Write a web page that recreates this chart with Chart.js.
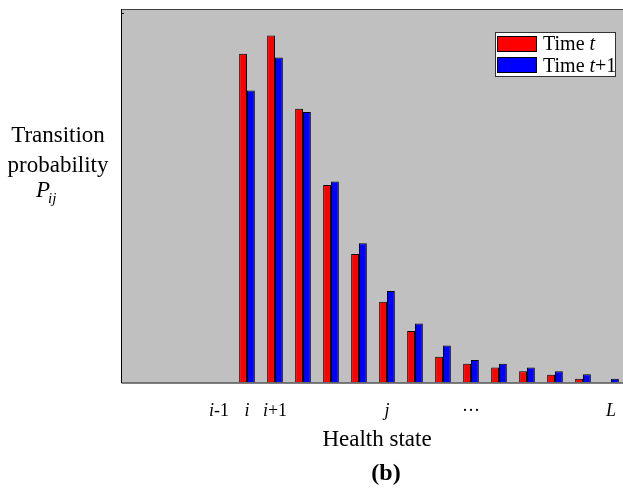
<!DOCTYPE html>
<html>
<head>
<meta charset="utf-8">
<script src="https://cdn.jsdelivr.net/npm/chart.js@4.4.0/dist/chart.umd.min.js"></script>
<style>
  html, body { margin: 0; padding: 0; background: #fff; overflow: hidden; }
  #wrap { width: 626px; height: 490px; }
</style>
</head>
<body>
<div id="wrap"><canvas id="chart" width="626" height="490"></canvas></div>
<script>
// health states on the x axis, *...* is drawn in italic
const states = ['', '', '', '*i*-1', '*i*', '*i*+1', '', '', '', '*j*', '', '', '···', '', '', '', '', '*L*']
// transition probability (1 = top of the plot)
const timeT = [null, null, null, null, 0.880, 0.929, 0.733, 0.529, 0.344, 0.216, 0.138, 0.069, 0.050, 0.040, 0.030, 0.021, 0.010, 0]
const timeT1 = [null, null, null, null, 0.782, 0.870, 0.724, 0.538, 0.373, 0.245, 0.158, 0.099, 0.060, 0.050, 0.040, 0.030, 0.022, 0.010]
const seriesNames = ['Time *t*', 'Time *t*+1']
const seriesColors = ['#ff0000', '#0000ff']
const xTitle = 'Health state'
const yTitle = ['Transition', 'probability']
const caption = '(b)'

const FONT = '"Liberation Serif", "Times New Roman", serif'

function richParts(str) {
    return str.split('*').map((t, k) => ({ t: t, it: k % 2 == 1 })).filter(p => p.t)
}

// draws text with italic pieces, x is the centre unless align is 'left'
function drawRich(ctx, str, x, y, size, align) {
    let ps = richParts(str)
    let total = 0
    ps.forEach(p => {
        ctx.font = (p.it ? 'italic ' : '') + size + 'px ' + FONT
        p.w = ctx.measureText(p.t).width
        total += p.w
    })
    let cx = align == 'left' ? x : x - total / 2
    ctx.textAlign = 'left'
    ctx.textBaseline = 'alphabetic'
    ps.forEach(p => {
        ctx.font = (p.it ? 'italic ' : '') + size + 'px ' + FONT
        ctx.fillText(p.t, cx, y)
        cx += p.w
    })
}

const decor = {
    id: 'decor',
    beforeDatasetsDraw(chart) {
        const { ctx, chartArea: a } = chart
        ctx.save()
        ctx.fillStyle = '#c0c0c0'
        ctx.fillRect(a.left, a.top, a.right - a.left, a.bottom - a.top)
        ctx.restore()
    },
    afterDatasetsDraw(chart) {
        const { ctx, chartArea: a } = chart
        ctx.save()
        ctx.lineWidth = 1
        ctx.strokeStyle = '#404040'
        ctx.beginPath()
        ctx.moveTo(a.left, a.top + 0.5)
        ctx.lineTo(a.right, a.top + 0.5)
        ctx.stroke()
        ctx.strokeStyle = '#000'
        ctx.beginPath()
        ctx.moveTo(a.left + 0.5, a.top)
        ctx.lineTo(a.left + 0.5, a.bottom + 0.5)
        ctx.lineTo(a.right, a.bottom + 0.5)
        ctx.stroke()
        // little tick at the top of the y axis
        ctx.beginPath()
        ctx.moveTo(a.left, a.top + 4.5)
        ctx.lineTo(a.left + 3, a.top + 4.5)
        ctx.stroke()
        ctx.restore()
    },
    afterDraw(chart) {
        const { ctx, chartArea: a } = chart
        const xs = chart.scales.x
        ctx.save()
        ctx.fillStyle = '#000'

        // x tick labels
        states.forEach((s, i) => {
            if (s) drawRich(ctx, s, xs.getPixelForValue(i), a.bottom + 33.5, 18)
        })
        drawRich(ctx, xTitle, (a.left + 623) / 2 + 5, a.bottom + 63.5, 23)

        // caption
        ctx.font = 'bold 24px ' + FONT
        ctx.textAlign = 'center'
        ctx.fillText(caption, 386, a.bottom + 97)

        // y title, left of the plot
        const yc = a.left - 63
        drawRich(ctx, yTitle[0], yc, 141.5, 23)
        drawRich(ctx, yTitle[1], yc, 171.5, 23)
        ctx.font = 'italic 23px ' + FONT
        ctx.textAlign = 'left'
        ctx.fillText('P', 36, 197)
        ctx.font = 'italic 15px ' + FONT
        ctx.fillText('ij', 48, 203)

        // legend
        const lx = 495.5, ly = 32.5
        ctx.fillStyle = '#fff'
        ctx.fillRect(lx, ly, 120, 44)
        ctx.strokeStyle = '#333'
        ctx.lineWidth = 1
        ctx.strokeRect(lx, ly, 120, 44)
        seriesNames.forEach((name, k) => {
            const top = ly + 4 + k * 21
            ctx.fillStyle = seriesColors[k]
            ctx.fillRect(lx + 2, top, 39, 15)
            ctx.strokeStyle = '#000'
            ctx.strokeRect(lx + 2, top, 39, 15)
            ctx.fillStyle = '#000'
            drawRich(ctx, name, lx + 47.5, top + 13.5 + k * 0.5, 20, 'left')
        })
        ctx.restore()
    }
}

new Chart(document.getElementById('chart'), {
    type: 'bar',
    data: {
        labels: states,
        datasets: [{
            label: seriesNames[0],
            data: timeT,
            backgroundColor: seriesColors[0],
            borderColor: '#000',
            borderWidth: 1
        }, {
            label: seriesNames[1],
            data: timeT1,
            backgroundColor: seriesColors[1],
            borderColor: '#000',
            borderWidth: 1
        }]
    },
    options: {
        responsive: false,
        animation: false,
        events: [],
        layout: { padding: { left: 121, right: 1, top: 9, bottom: 107.5 } },
        datasets: { bar: { categoryPercentage: 0.56, barPercentage: 1 } },
        scales: {
            x: { display: false },
            y: { display: false, min: 0, max: 1 }
        },
        plugins: {
            legend: { display: false },
            tooltip: { enabled: false }
        }
    },
    plugins: [decor]
})
</script>
</body>
</html>
